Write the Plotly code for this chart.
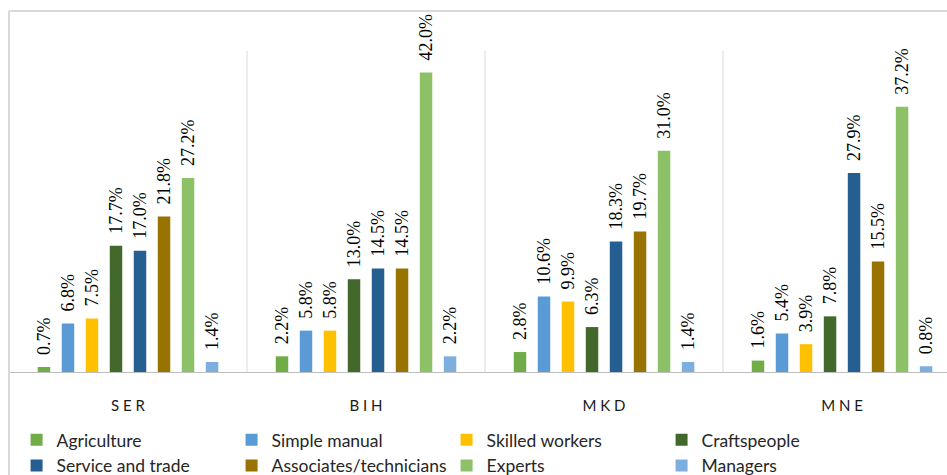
import plotly.graph_objects as go

countries = ["SER", "BIH", "MKD", "MNE"]
country_labels = ["S E R", "B I H", "M K D", "M N E"]

occupations = [
    "Agriculture",
    "Simple manual",
    "Skilled workers",
    "Craftspeople",
    "Service and trade",
    "Associates/technicians",
    "Experts",
    "Managers",
]

colors = ["#70AD47", "#5B9BD5", "#FFC000", "#43682B", "#255E91", "#997300", "#8CC168", "#7CAFDD"]

# share by occupation, one list per occupation, in country order
agriculture = [0.7, 2.2, 2.8, 1.6]
simple_manual = [6.8, 5.8, 10.6, 5.4]
skilled_workers = [7.5, 5.8, 9.9, 3.9]
craftspeople = [17.7, 13.0, 6.3, 7.8]
service_trade = [17.0, 14.5, 18.3, 27.9]
associates = [21.8, 14.5, 19.7, 15.5]
experts = [27.2, 42.0, 31.0, 37.2]
managers = [1.4, 2.2, 1.4, 0.8]

series = [agriculture, simple_manual, skilled_workers, craftspeople,
          service_trade, associates, experts, managers]

fig = go.Figure()
for name, values, color in zip(occupations, series, colors):
    fig.add_trace(go.Bar(
        x=countries,
        y=values,
        name=name,
        marker=dict(color=color, line=dict(width=0)),
        texttemplate="\u00a0\u00a0%{y:.1f}%",
        textposition="outside",
        textangle=-90,
        constraintext="none",
        cliponaxis=False,
        textfont=dict(family="Liberation Serif", size=18, color="#000000"),
    ))

# light frame around the chart and separators between country groups
frame = "#D9D9D9"
shapes = [
    dict(type="line", xref="paper", yref="paper", x0=0, x1=1.02, y0=1.1246, y1=1.1246,
         line=dict(color=frame, width=2)),
    dict(type="line", xref="paper", yref="paper", x0=0, x1=0, y0=1.1246, y1=-0.33,
         line=dict(color=frame, width=2)),
]
for b in [0.5, 1.5, 2.5]:
    shapes.append(dict(type="line", xref="x", yref="y", x0=b, x1=b, y0=0, y1=45,
                       line=dict(color=frame, width=1)))

fig.update_layout(
    width=947,
    height=475,
    margin=dict(l=9, r=0, t=51, b=103),
    paper_bgcolor="white",
    plot_bgcolor="white",
    barmode="group",
    bargap=0.193,
    bargroupgap=0.48,
    shapes=shapes,
    font=dict(family="Lato", color="#262626"),
    legend=dict(
        orientation="h",
        xref="container",
        yref="container",
        x=0.0175,
        y=0.112,
        xanchor="left",
        yanchor="top",
        entrywidth=170,
        font=dict(family="Lato", size=17.5, color="#262626"),
        traceorder="normal",
    ),
    xaxis=dict(
        range=[-0.5, 3.441],
        tickvals=countries,
        ticktext=country_labels,
        tickfont=dict(family="Lato", size=15, color="#1a1a1a"),
        showline=True,
        linecolor="#BFBFBF",
        linewidth=1,
        showgrid=False,
        ticks="",
        ticklabelstandoff=20,
        fixedrange=True,
    ),
    yaxis=dict(
        range=[0, 45],
        visible=False,
        showgrid=False,
        zeroline=False,
    ),
)

# the page keeps the browser's default 8px body margin otherwise
fig.write_html(
    "out.html",
    config={"displayModeBar": False},
    post_script="document.body.style.margin = '0';",
)
